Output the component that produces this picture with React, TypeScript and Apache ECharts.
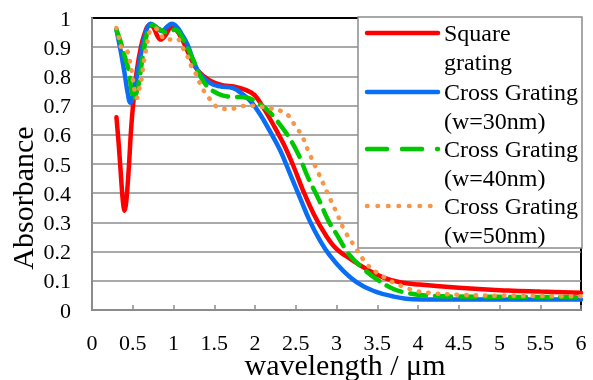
import React, { useEffect, useRef } from "react";
import * as echarts from "echarts";

const xTicks = [0, 0.5, 1, 1.5, 2, 2.5, 3, 3.5, 4, 4.5, 5, 5.5, 6];

const squareX = [0.30, 0.33, 0.36, 0.38, 0.40, 0.42, 0.45, 0.48, 0.51, 0.55, 0.60, 0.65, 0.70, 0.75, 0.80, 0.84, 0.90, 0.97, 1.03, 1.10, 1.20, 1.30, 1.45, 1.60, 1.75, 1.90, 2.00, 2.10, 2.22, 2.35, 2.47, 2.59, 2.72, 2.86, 3.00, 3.17, 3.37, 3.57, 3.78, 4.02, 4.50, 5.00, 5.50, 6.00];
const squareY = [0.66, 0.56, 0.44, 0.37, 0.34, 0.37, 0.48, 0.62, 0.72, 0.82, 0.90, 0.95, 0.975, 0.97, 0.94, 0.926, 0.94, 0.966, 0.96, 0.93, 0.87, 0.82, 0.785, 0.77, 0.765, 0.752, 0.734, 0.694, 0.637, 0.569, 0.494, 0.409, 0.329, 0.26, 0.209, 0.175, 0.14, 0.112, 0.095, 0.087, 0.076, 0.068, 0.063, 0.059];

const cross30X = [0.30, 0.35, 0.40, 0.44, 0.47, 0.50, 0.55, 0.61, 0.67, 0.72, 0.78, 0.86, 0.92, 0.98, 1.04, 1.10, 1.17, 1.24, 1.32, 1.45, 1.57, 1.73, 1.82, 1.94, 2.06, 2.18, 2.31, 2.43, 2.55, 2.67, 2.80, 2.92, 3.08, 3.25, 3.45, 3.70, 3.94, 4.50, 5.00, 6.00];
const cross30Y = [0.96, 0.89, 0.81, 0.74, 0.71, 0.73, 0.80, 0.89, 0.96, 0.98, 0.97, 0.955, 0.97, 0.98, 0.97, 0.945, 0.91, 0.857, 0.81, 0.777, 0.766, 0.76, 0.745, 0.717, 0.671, 0.614, 0.546, 0.466, 0.386, 0.306, 0.237, 0.186, 0.135, 0.095, 0.066, 0.046, 0.037, 0.036, 0.036, 0.036];

const cross40X = [0.30, 0.35, 0.40, 0.45, 0.49, 0.51, 0.54, 0.57, 0.63, 0.69, 0.75, 0.80, 0.84, 0.92, 1.02, 1.12, 1.24, 1.32, 1.40, 1.49, 1.61, 1.75, 1.90, 2.06, 2.17, 2.27, 2.39, 2.53, 2.65, 2.78, 2.90, 3.00, 3.15, 3.31, 3.49, 3.70, 3.90, 4.10, 4.50, 5.00, 6.00];
const cross40Y = [0.96, 0.92, 0.87, 0.82, 0.74, 0.72, 0.74, 0.77, 0.88, 0.96, 0.977, 0.965, 0.96, 0.95, 0.96, 0.926, 0.857, 0.806, 0.77, 0.749, 0.734, 0.73, 0.727, 0.705, 0.68, 0.648, 0.603, 0.534, 0.454, 0.38, 0.306, 0.26, 0.192, 0.146, 0.106, 0.072, 0.057, 0.05, 0.046, 0.045, 0.044];

const cross50X = [0.30, 0.335, 0.364, 0.40, 0.433, 0.466, 0.487, 0.52, 0.55, 0.58, 0.61, 0.64, 0.67, 0.71, 0.77, 0.83, 0.90, 0.98, 1.04, 1.11, 1.17, 1.22, 1.28, 1.33, 1.39, 1.47, 1.57, 1.69, 1.82, 1.94, 2.08, 2.20, 2.33, 2.43, 2.49, 2.57, 2.67, 2.78, 2.89, 3.00, 3.10, 3.23, 3.37, 3.49, 3.60, 3.72, 3.84, 3.96, 4.20, 4.50, 5.00, 6.00];
const cross50Y = [0.966, 0.926, 0.894, 0.888, 0.886, 0.85, 0.817, 0.755, 0.726, 0.757, 0.795, 0.857, 0.90, 0.954, 0.966, 0.949, 0.926, 0.926, 0.93, 0.90, 0.87, 0.834, 0.806, 0.772, 0.743, 0.715, 0.69, 0.688, 0.697, 0.70, 0.696, 0.69, 0.68, 0.66, 0.631, 0.60, 0.534, 0.468, 0.40, 0.334, 0.272, 0.215, 0.158, 0.129, 0.11, 0.091, 0.078, 0.066, 0.057, 0.052, 0.049, 0.047];

const seriesNames = ["Square\ngrating", "Cross Grating\n(w=30nm)", "Cross Grating\n(w=40nm)", "Cross Grating\n(w=50nm)"];
const seriesColors = ["#FF0000", "#0A6EF5", "#00C800", "#F79646"];

const FONT = "'Liberation Serif', 'Times New Roman', serif";

const zip = (xs: number[], ys: number[]) => xs.map((x, i) => [x, ys[i]]);

export default function App() {
  const ref = useRef<HTMLDivElement>(null);
  useEffect(() => {
    document.body.style.margin = "0";
    const chart = echarts.init(ref.current!, null, { renderer: "svg" });
    const dashes: any[] = ["solid", "solid", [16, 9], [0.5, 9]];
    const datas = [zip(squareX, squareY), zip(cross30X, cross30Y), zip(cross40X, cross40Y), zip(cross50X, cross50Y)];
    const series = datas.map((d, i) => ({
      type: "line",
      name: seriesNames[i],
      data: d,
      showSymbol: false,
      symbol: "none",
      smooth: 0.4,
      z: 2 + i,
      lineStyle: { color: seriesColors[i], width: 4.5, type: dashes[i], cap: "round" },
    }));
    const legendX1 = 367, legendX2 = 438, textX = 444;
    const rowY = [33, 92, 149, 206];
    const graphic: any[] = [
      {
        type: "rect",
        z: 100,
        shape: { x: 358, y: 17, width: 224, height: 231 },
        style: { fill: "#fff", stroke: "#8c8c8c", lineWidth: 1.5 },
      },
    ];
    rowY.forEach((y, i) => {
      graphic.push({
        type: "line",
        z: 101,
        shape: { x1: legendX1, y1: y, x2: legendX2, y2: y },
        style: { stroke: seriesColors[i], lineWidth: 4.5, lineDash: i === 2 ? [20, 15] : i === 3 ? [0.5, 10] : null, lineCap: "round" },
      });
      graphic.push({
        type: "text",
        z: 101,
        x: textX,
        y: y - 15,
        style: { text: seriesNames[i], font: `24px ${FONT}`, fill: "#000", lineHeight: 29, verticalAlign: "top", align: "left" },
      });
    });
    graphic.push({
      type: "text",
      z: 101,
      x: 345,
      y: 364,
      style: { text: "wavelength / μm", font: `30px ${FONT}`, fill: "#000", align: "center", verticalAlign: "middle", lineHeight: 24 },
    });
    graphic.push({
      type: "text",
      z: 101,
      x: 22,
      y: 198,
      rotation: Math.PI / 2,
      style: { text: "Absorbance", font: `30px ${FONT}`, fill: "#000", align: "center", verticalAlign: "middle" },
    });
    chart.setOption({
      animation: false,
      grid: { left: 92, right: 12, top: 18, bottom: 70, show: true, borderColor: "#000", borderWidth: 2, backgroundColor: "transparent" },
      xAxis: {
        type: "value",
        min: 0,
        max: 6,
        interval: 0.5,
        axisLine: { show: true, lineStyle: { color: "#8c8c8c", width: 2 } },
        axisTick: { show: true, inside: true, length: 5, lineStyle: { color: "#8c8c8c", width: 1.5 } },
        splitLine: { show: false },
        axisLabel: { fontFamily: FONT, fontSize: 22, lineHeight: 18, color: "#000", margin: 23, formatter: (v: number) => String(v), customValues: xTicks },
      },
      yAxis: {
        type: "value",
        min: 0,
        max: 1,
        interval: 0.1,
        axisLine: { show: true, lineStyle: { color: "#8c8c8c", width: 2 } },
        axisTick: { show: false },
        splitLine: { show: true, showMaxLine: false, showMinLine: false, lineStyle: { color: "#8c8c8c", width: 1.5 } },
        axisLabel: { fontFamily: FONT, fontSize: 22, color: "#000", margin: 21, formatter: (v: number) => String(Math.round(v * 10) / 10) },
      },
      series,
      graphic,
    });
    return () => chart.dispose();
  }, []);
  return <div ref={ref} style={{ position: "fixed", left: 0, top: 0, width: 593, height: 380 }} />;
}
